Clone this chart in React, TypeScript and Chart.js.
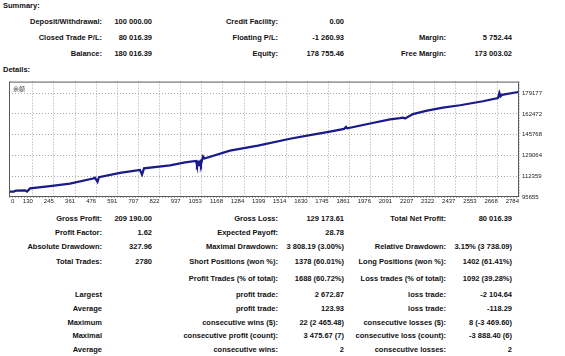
import React, { useEffect, useRef } from "react";
import { Chart, registerables } from "chart.js";
Chart.register(...registerables);

// ---- chart data (trade number, balance) ----
const tradeIndex = [0, 27, 38, 87, 98, 115, 224, 333, 459, 469, 483, 491, 606, 715, 726, 737, 879, 961, 1021, 1026, 1032, 1037, 1043, 1048, 1059, 1067, 1206, 1359, 1534, 1643, 1752, 1829, 1840, 1847, 1971, 2080, 2134, 2151, 2162, 2205, 2282, 2369, 2462, 2587, 2669, 2677, 2683, 2691, 2780];
const balance = [100000, 100000, 100810, 100970, 100020, 102560, 104380, 106360, 110490, 111120, 107790, 111520, 115090, 117470, 113660, 118660, 121040, 123420, 124600, 121430, 123800, 122620, 124200, 121830, 128170, 126590, 132930, 136900, 142450, 145390, 148240, 150400, 151970, 150780, 154750, 158080, 159110, 159510, 158720, 162290, 165070, 167440, 169420, 172600, 175210, 179340, 176560, 177750, 180016];
const xTicks = [0, 130, 245, 361, 476, 591, 707, 822, 937, 1053, 1168, 1284, 1399, 1514, 1630, 1745, 1861, 1976, 2091, 2207, 2322, 2437, 2553, 2668, 2784];
const yTicks = [95655, 112359, 129064, 145768, 162472, 179177];
const seriesLabel = "余额";

// ---- report text ----
const summaryRows = [
  ["Deposit/Withdrawal:", "100 000.00", "Credit Facility:", "0.00", "", ""],
  ["Closed Trade P/L:", "80 016.39", "Floating P/L:", "-1 260.93", "Margin:", "5 752.44"],
  ["Balance:", "180 016.39", "Equity:", "178 755.46", "Free Margin:", "173 003.02"],
];
const detailRows = [
  ["Gross Profit:", "209 190.00", "Gross Loss:", "129 173.61", "Total Net Profit:", "80 016.39"],
  ["Profit Factor:", "1.62", "Expected Payoff:", "28.78", "", ""],
  ["Absolute Drawdown:", "327.96", "Maximal Drawdown:", "3 808.19 (3.00%)", "Relative Drawdown:", "3.15% (3 738.09)"],
  ["Total Trades:", "2780", "Short Positions (won %):", "1378 (60.01%)", "Long Positions (won %):", "1402 (61.41%)"],
  ["", "", "Profit Trades (% of total):", "1688 (60.72%)", "Loss trades (% of total):", "1092 (39.28%)"],
  ["Largest", "", "profit trade:", "2 672.87", "loss trade:", "-2 104.64"],
  ["Average", "", "profit trade:", "123.93", "loss trade:", "-118.29"],
  ["Maximum", "", "consecutive wins ($):", "22 (2 465.48)", "consecutive losses ($):", "8 (-3 469.60)"],
  ["Maximal", "", "consecutive profit (count):", "3 475.67 (7)", "consecutive loss (count):", "-3 888.40 (6)"],
  ["Average", "", "consecutive wins:", "2", "consecutive losses:", "2"],
];

// layout constants
const colRight = [102, 152, 278, 344, 446, 512];
const summaryY = [22, 38, 54];
const detailY = [219, 233, 247, 262, 279, 295, 309, 323, 336, 350];
const TEXT_FONT = "bold 7.5px 'Liberation Sans', Arial, sans-serif";
const TEXT_COLOR = "#111";

function Row({ cells, y }: { cells: string[]; y: number }) {
  return (
    <>
      {cells.map((c, i) =>
        c ? (
          <div
            key={i}
            style={{
              position: "absolute",
              right: 565 - colRight[i],
              top: y - 5,
              height: 10,
              lineHeight: "10px",
              whiteSpace: "nowrap",
              font: TEXT_FONT,
              color: TEXT_COLOR,
            }}
          >
            {c}
          </div>
        ) : null
      )}
    </>
  );
}

export default function App() {
  const ref = useRef<HTMLCanvasElement | null>(null);

  useEffect(() => {
    document.body.style.margin = "0";
    const canvas = ref.current!;
    const framePlugin = {
      id: "frame",
      afterDraw(chart: any) {
        const { ctx, chartArea } = chart;
        ctx.save();
        ctx.strokeStyle = "#5a5a5a";
        ctx.lineWidth = 1;
        ctx.strokeRect(chartArea.left + 0.5, chartArea.top + 0.5, chartArea.right - chartArea.left - 1, chartArea.bottom - chartArea.top - 1);
        ctx.fillStyle = "#444";
        ctx.font = "6px 'Noto Sans CJK SC', sans-serif";
        ctx.textBaseline = "middle";
        ctx.textAlign = "left";
        ctx.fillText(seriesLabel, chartArea.left + 4, chartArea.top + 7);
        // first x label, drawn left-aligned at the axis origin
        const xs = chart.scales.x;
        ctx.fillStyle = "#222";
        ctx.font = "6px 'Liberation Sans', Arial, sans-serif";
        ctx.fillText(String(xTicks[0]), xs.getPixelForValue(xTicks[0]) + 2, chartArea.bottom + 4.5);
        ctx.restore();
      },
    };
    const chart = new Chart(canvas, {
      type: "line",
      data: {
        datasets: [
          {
            label: seriesLabel,
            data: tradeIndex.map((t, i) => ({ x: t, y: balance[i] })),
            borderColor: "#1a1a8a",
            borderWidth: 2.2,
            pointRadius: 0,
            tension: 0,
            fill: false,
          },
        ],
      },
      options: {
        animation: false,
        responsive: false,
        maintainAspectRatio: false,
        layout: { padding: { left: 9, top: 5, right: 0, bottom: 0 } },
        plugins: { legend: { display: false }, tooltip: { enabled: false } },
        scales: {
          x: {
            type: "linear",
            min: 0,
            max: 2784,
            afterBuildTicks: (axis: any) => {
              axis.ticks = xTicks.map((v) => ({ value: v }));
            },
            afterFit: (scale: any) => {
              scale.height = 13;
            },
            ticks: {
              autoSkip: false,
              maxRotation: 0,
              align: "end",
              padding: 1,
              color: "#222",
              font: { size: 6, family: "'Liberation Sans', Arial, sans-serif" },
              callback: (v: any) => (v === 0 ? "" : String(v)),
            },
            grid: { color: "#a8a8a8", drawTicks: false, lineWidth: 1 },
            border: { display: false, dash: [1, 2] },
          },
          y: {
            type: "linear",
            position: "right",
            min: 95655,
            max: 188400,
            afterBuildTicks: (axis: any) => {
              axis.ticks = yTicks.map((v) => ({ value: v }));
            },
            afterFit: (scale: any) => {
              scale.width = 46;
            },
            ticks: {
              padding: 3,
              color: "#222",
              font: { size: 6, family: "'Liberation Sans', Arial, sans-serif" },
              callback: (v: any) => String(v),
            },
            grid: { color: "#a8a8a8", drawTicks: false, lineWidth: 1 },
            border: { display: false, dash: [1, 2] },
          },
        },
      } as any,
      plugins: [framePlugin],
    });
    return () => chart.destroy();
  }, []);

  return (
    <div style={{ position: "fixed", left: 0, top: 0, width: 565, height: 356, background: "#fff", overflow: "hidden" }}>
      <div style={{ position: "absolute", left: 3, top: 1, lineHeight: "10px", font: TEXT_FONT, color: TEXT_COLOR }}>Summary:</div>
      {summaryRows.map((r, i) => (
        <Row key={"s" + i} cells={r} y={summaryY[i]} />
      ))}
      <div style={{ position: "absolute", left: 3, top: 65, lineHeight: "10px", font: TEXT_FONT, color: TEXT_COLOR }}>Details:</div>
      <canvas ref={ref} width={565} height={135} style={{ position: "absolute", left: 0, top: 75, width: 565, height: 135 }} />
      {detailRows.map((r, i) => (
        <Row key={"d" + i} cells={r} y={detailY[i]} />
      ))}
    </div>
  );
}
